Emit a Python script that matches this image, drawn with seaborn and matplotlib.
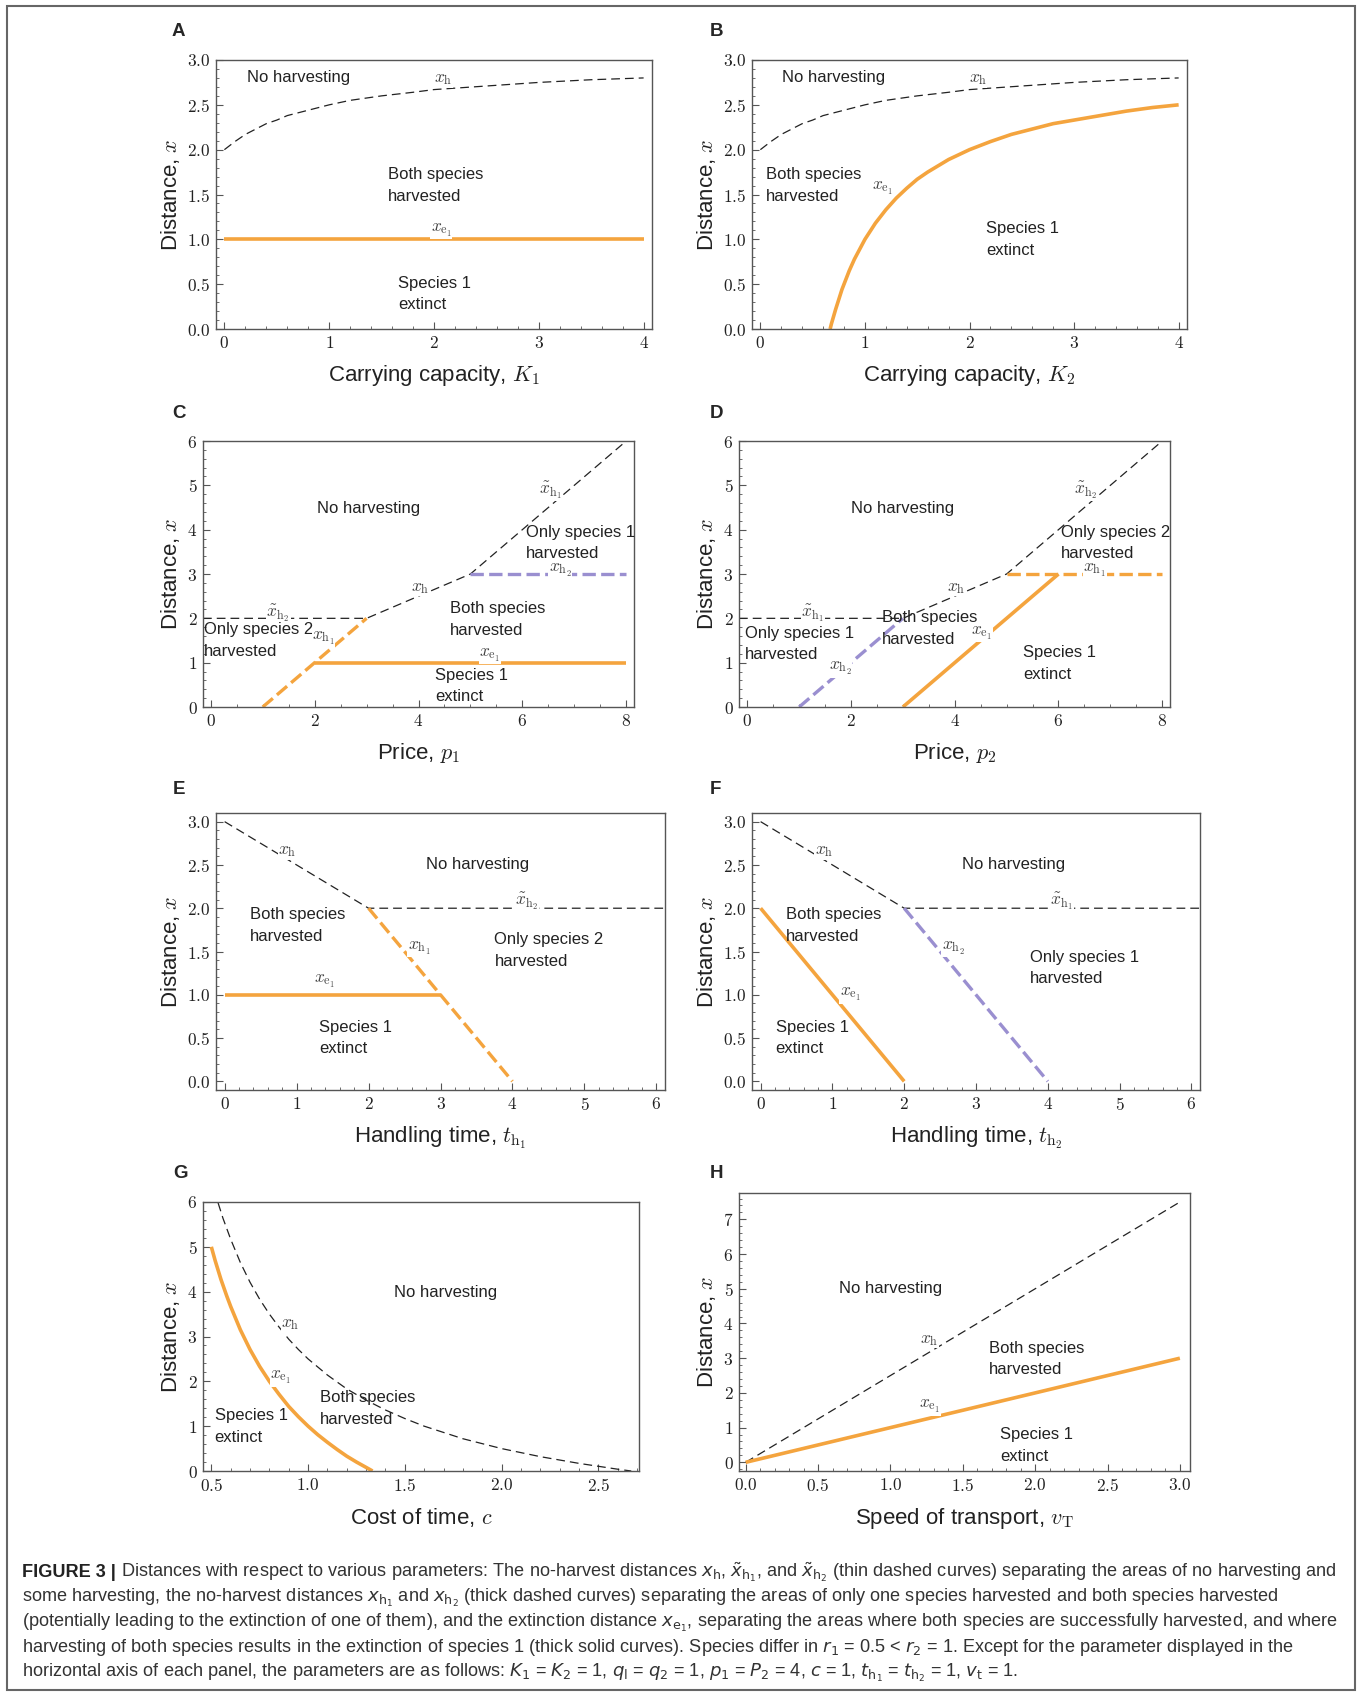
import matplotlib
matplotlib.use("Agg")
import matplotlib.pyplot as plt
import seaborn as sns
from matplotlib.ticker import MultipleLocator, FormatStrFormatter
from matplotlib.patches import Rectangle
from matplotlib import font_manager

# ---- data ----
# A: carrying capacity K1
A_K = [0, 0.1, 0.2, 0.3, 0.4, 0.5, 0.6, 0.8, 1.0, 1.2, 1.5, 1.8, 2.0, 2.5, 3.0, 3.5, 4.0]
A_XH = [2.0, 2.09, 2.17, 2.23, 2.29, 2.33, 2.38, 2.44, 2.5, 2.55, 2.6, 2.64, 2.67, 2.71, 2.75, 2.78, 2.8]
A_XE1_K = [0, 4]
A_XE1 = [1.0, 1.0]

# B: carrying capacity K2
B_K = [0, 0.1, 0.2, 0.3, 0.4, 0.5, 0.6, 0.8, 1.0, 1.2, 1.5, 1.8, 2.0, 2.5, 3.0, 3.5, 4.0]
B_XH = [2.0, 2.09, 2.17, 2.23, 2.29, 2.33, 2.38, 2.44, 2.5, 2.55, 2.6, 2.64, 2.67, 2.71, 2.75, 2.78, 2.8]
B_XE1_K = [0.667, 0.68, 0.7, 0.72, 0.75, 0.78, 0.8, 0.85, 0.9, 0.95, 1.0, 1.1, 1.2, 1.3, 1.4,
           1.5, 1.6, 1.8, 2.0, 2.2, 2.4, 2.6, 2.8, 3.0, 3.25, 3.5, 3.75, 4.0]
B_XE1 = [0.0, 0.06, 0.14, 0.22, 0.33, 0.44, 0.5, 0.65, 0.78, 0.89, 1.0, 1.18, 1.33, 1.46, 1.57,
         1.67, 1.75, 1.89, 2.0, 2.09, 2.17, 2.23, 2.29, 2.33, 2.38, 2.43, 2.47, 2.5]

# C: price p1
C_THIN_P = [-0.15, 3, 4, 5, 8]
C_THIN = [2, 2, 2.5, 3, 6]
C_XH1_P = [1, 3]
C_XH1 = [0, 2]
C_XH2_P = [5, 8]
C_XH2 = [3, 3]
C_XE1_P = [2, 8]
C_XE1 = [1, 1]

# D: price p2
D_THIN_P = [-0.16, 3, 4, 5, 8]
D_THIN = [2, 2, 2.5, 3, 6]
D_XH2_P = [1, 3]
D_XH2 = [0, 2]
D_XH1_P = [5, 8]
D_XH1 = [3, 3]
D_XE1_P = [3, 6]
D_XE1 = [0, 3]

# E: handling time th1
E_THIN_T = [0, 2, 6.12]
E_THIN = [3, 2, 2]
E_XH1_T = [2, 4]
E_XH1 = [2, 0]
E_XE1_T = [0, 3]
E_XE1 = [1, 1]

# F: handling time th2
F_THIN_T = [0, 2, 6.12]
F_THIN = [3, 2, 2]
F_XH2_T = [2, 4]
F_XH2 = [2, 0]
F_XE1_T = [0, 2]
F_XE1 = [2, 0]

# G: cost of time c
G_XH_C = [0.535, 0.56, 0.6, 0.65, 0.7, 0.75, 0.8, 0.85, 0.9, 0.95, 1.0, 1.1, 1.2, 1.3, 1.4,
          1.5, 1.6, 1.8, 2.0, 2.2, 2.4, 2.6, 2.67]
G_XH = [5.98, 5.64, 5.17, 4.65, 4.21, 3.83, 3.5, 3.21, 2.94, 2.71, 2.5, 2.14, 1.83, 1.58, 1.36,
        1.17, 1.0, 0.72, 0.5, 0.32, 0.17, 0.04, 0.0]
G_XE1_C = [0.5, 0.52, 0.55, 0.58, 0.6, 0.65, 0.7, 0.75, 0.8, 0.85, 0.9, 0.95, 1.0, 1.05, 1.1,
           1.15, 1.2, 1.25, 1.3, 1.333]
G_XE1 = [5.0, 4.69, 4.27, 3.9, 3.67, 3.15, 2.71, 2.33, 2.0, 1.71, 1.44, 1.21, 1.0, 0.81, 0.64,
         0.48, 0.33, 0.2, 0.08, 0.0]

# H: speed of transport vT
H_V = [0, 3]
H_XH = [0, 7.5]
H_XE1 = [0, 3]

CAPTION = [
    r" Distances with respect to various parameters: The no-harvest distances $x_\mathrm{h}$, $\tilde{x}_{\mathrm{h}_1}$, and $\tilde{x}_{\mathrm{h}_2}$ (thin dashed curves) separating the areas of no harvesting and",
    r"some harvesting, the no-harvest distances $x_{\mathrm{h}_1}$ and $x_{\mathrm{h}_2}$ (thick dashed curves) separating the areas of only one species harvested and both species harvested",
    r"(potentially leading to the extinction of one of them), and the extinction distance $x_{\mathrm{e}_1}$, separating the areas where both species are successfully harvested, and where",
    r"harvesting of both species results in the extinction of species 1 (thick solid curves). Species differ in $r_1$ = 0.5 < $r_2$ = 1. Except for the parameter displayed in the",
    r"horizontal axis of each panel, the parameters are as follows: $K_1$ = $K_2$ = 1, $q_\mathrm{l}$ = $q_2$ = 1, $p_1$ = $P_2$ = 4, $c$ = 1, $t_{\mathrm{h}_1}$ = $t_{\mathrm{h}_2}$ = 1, $v_\mathrm{t}$ = 1.",
]

# ---- style ----
sns.set_style("white")
plt.rcParams["font.family"] = ["Liberation Sans", "DejaVu Sans"]
plt.rcParams["mathtext.fontset"] = "cm"

names = {f.name for f in font_manager.fontManager.ttflist}

ORANGE = "#F4A43E"
PURPLE = "#9A8FD0"
THIN_LS = (0, (7, 4))
THICK_LS = (0, (4, 1.6))

W, H = 1362, 1696
fig = plt.figure(figsize=(W / 100, H / 100), dpi=100)
fig.patch.set_facecolor("white")
fig.patches.append(Rectangle((7 / W, 6 / H), (1355 - 7) / W, (1690 - 6) / H,
                             transform=fig.transFigure, fill=False,
                             edgecolor="#666666", linewidth=1.5))


def make_ax(left, right, top, bottom):
    return fig.add_axes([left / W, 1 - bottom / H, (right - left) / W, (bottom - top) / H])


def line(ax, x, y, kind):
    if kind == "thin":
        kw = dict(color="#222222", lw=0.9, linestyle=THIN_LS)
    elif kind == "orange":
        kw = dict(color=ORANGE, lw=2.6, solid_capstyle="butt", solid_joinstyle="round")
    elif kind == "orange_dash":
        kw = dict(color=ORANGE, lw=2.4, linestyle=THICK_LS)
    else:
        kw = dict(color=PURPLE, lw=2.4, linestyle=THICK_LS)
    sns.lineplot(x=x, y=y, ax=ax, sort=False, estimator=None, **kw)


def style(ax, xlim, ylim, xmaj, xmin, ymaj, ymin, xfmt, yfmt, xlabel):
    ax.set_xlim(xlim)
    ax.set_ylim(ylim)
    ax.xaxis.set_major_locator(MultipleLocator(xmaj))
    ax.xaxis.set_minor_locator(MultipleLocator(xmin))
    ax.yaxis.set_major_locator(MultipleLocator(ymaj))
    ax.yaxis.set_minor_locator(MultipleLocator(ymin))
    # tick numbers in a serif face (Computer Modern via mathtext)
    ax.xaxis.set_major_formatter(FormatStrFormatter("$" + xfmt + "$"))
    ax.yaxis.set_major_formatter(FormatStrFormatter("$" + yfmt + "$"))
    ax.tick_params(which="both", direction="in", top=False, right=False,
                   bottom=True, left=True, colors="#555555", labelcolor="#222222",
                   labelsize=12.5, pad=4)
    ax.tick_params(which="major", length=5, width=0.8)
    ax.tick_params(which="minor", length=2.5, width=0.6)
    for s in ax.spines.values():
        s.set_color("#555555")
        s.set_linewidth(1.0)
    ax.set_xlabel(xlabel, fontsize=16, labelpad=9, color="#222222")
    ax.set_ylabel("Distance, $x$", fontsize=16, labelpad=4, color="#222222")


def region(ax, x, y, s, ha="left"):
    ax.text(x, y, s, ha=ha, va="center", fontsize=12, linespacing=1.55, color="#222222")


def mlab(ax, x, y, s):
    ax.text(x, y, s, ha="center", va="center", fontsize=12.5, color="#444444",
            bbox=dict(facecolor="white", edgecolor="none", pad=0.3))


def letter(x, y, s):
    fig.text(x / W, 1 - y / H, s, fontsize=13.5, weight="bold", va="center", ha="left")


# ---- A ----
ax = make_ax(216, 652, 60, 329)
line(ax, A_K, A_XH, "thin")
line(ax, A_XE1_K, A_XE1, "orange")
style(ax, (-0.08, 4.08), (0, 3), 1, 0.2, 0.5, 0.1, "%d", "%.1f", "Carrying capacity, $K_1$")
region(ax, 0.71, 2.80, "No harvesting", ha="center")
mlab(ax, 2.09, 2.78, r"$x_\mathrm{h}$")
region(ax, 1.56, 1.6, "Both species\nharvested")
mlab(ax, 2.07, 1.10, r"$x_{\mathrm{e}_1}$")
region(ax, 1.66, 0.39, "Species 1\nextinct")
letter(172, 32, "A")

# ---- B ----
ax = make_ax(752, 1187, 60, 329)
line(ax, B_K, B_XH, "thin")
line(ax, B_XE1_K, B_XE1, "orange")
style(ax, (-0.08, 4.08), (0, 3), 1, 0.2, 0.5, 0.1, "%d", "%.1f", "Carrying capacity, $K_2$")
region(ax, 0.70, 2.80, "No harvesting", ha="center")
mlab(ax, 2.08, 2.78, r"$x_\mathrm{h}$")
region(ax, 0.05, 1.6, "Both species\nharvested")
mlab(ax, 1.17, 1.57, r"$x_{\mathrm{e}_1}$")
region(ax, 2.16, 1.0, "Species 1\nextinct")
letter(710, 32, "B")

# ---- C ----
ax = make_ax(203, 634, 441, 707)
line(ax, C_THIN_P, C_THIN, "thin")
line(ax, C_XH1_P, C_XH1, "orange_dash")
line(ax, C_XH2_P, C_XH2, "purple_dash")
line(ax, C_XE1_P, C_XE1, "orange")
style(ax, (-0.15, 8.15), (0, 6), 2, 0.5, 1, 0.2, "%d", "%d", "Price, $p_1$")
region(ax, 3.03, 4.47, "No harvesting", ha="center")
mlab(ax, 6.54, 4.89, r"$\tilde{x}_{\mathrm{h}_1}$")
region(ax, 6.07, 3.7, "Only species 1\nharvested")
mlab(ax, 6.73, 3.08, r"$x_{\mathrm{h}_2}$")
mlab(ax, 4.03, 2.67, r"$x_\mathrm{h}$")
region(ax, 4.61, 1.98, "Both species\nharvested")
mlab(ax, 1.30, 2.1, r"$\tilde{x}_{\mathrm{h}_2}$")
region(ax, -0.13, 1.5, "Only species 2\nharvested")
mlab(ax, 2.17, 1.54, r"$x_{\mathrm{h}_1}$")
mlab(ax, 5.38, 1.17, r"$x_{\mathrm{e}_1}$")
region(ax, 4.32, 0.47, "Species 1\nextinct")
letter(172, 413, "C")

# ---- D ----
ax = make_ax(739, 1170, 441, 707)
line(ax, D_THIN_P, D_THIN, "thin")
line(ax, D_XH2_P, D_XH2, "purple_dash")
line(ax, D_XH1_P, D_XH1, "orange_dash")
line(ax, D_XE1_P, D_XE1, "orange")
style(ax, (-0.16, 8.15), (0, 6), 2, 0.5, 1, 0.2, "%d", "%d", "Price, $p_2$")
region(ax, 3.0, 4.47, "No harvesting", ha="center")
mlab(ax, 6.53, 4.89, r"$\tilde{x}_{\mathrm{h}_2}$")
region(ax, 6.05, 3.7, "Only species 2\nharvested")
mlab(ax, 6.70, 3.08, r"$x_{\mathrm{h}_1}$")
mlab(ax, 4.02, 2.67, r"$x_\mathrm{h}$")
mlab(ax, 1.27, 2.1, r"$\tilde{x}_{\mathrm{h}_1}$")
region(ax, 2.6, 1.77, "Both species\nharvested")
mlab(ax, 4.52, 1.66, r"$x_{\mathrm{e}_1}$")
region(ax, -0.04, 1.42, "Only species 1\nharvested")
mlab(ax, 1.80, 0.86, r"$x_{\mathrm{h}_2}$")
region(ax, 5.32, 0.98, "Species 1\nextinct")
letter(710, 413, "D")

# ---- E ----
ax = make_ax(216, 665, 813, 1090)
line(ax, E_THIN_T, E_THIN, "thin")
line(ax, E_XH1_T, E_XH1, "orange_dash")
line(ax, E_XE1_T, E_XE1, "orange")
style(ax, (-0.12, 6.12), (-0.1, 3.1), 1, 0.2, 0.5, 0.1, "%d", "%.1f", r"Handling time, $t_{\mathrm{h}_1}$")
mlab(ax, 0.87, 2.65, r"$x_\mathrm{h}$")
region(ax, 3.51, 2.5, "No harvesting", ha="center")
mlab(ax, 4.2, 2.08, r"$\tilde{x}_{\mathrm{h}_2}$")
region(ax, 0.35, 1.8, "Both species\nharvested")
mlab(ax, 2.7, 1.54, r"$x_{\mathrm{h}_1}$")
region(ax, 3.75, 1.51, "Only species 2\nharvested")
mlab(ax, 1.39, 1.15, r"$x_{\mathrm{e}_1}$")
region(ax, 1.31, 0.5, "Species 1\nextinct")
letter(173, 789, "E")

# ---- F ----
ax = make_ax(752, 1200, 813, 1090)
line(ax, F_THIN_T, F_THIN, "thin")
line(ax, F_XE1_T, F_XE1, "orange")
line(ax, F_XH2_T, F_XH2, "purple_dash")
style(ax, (-0.12, 6.12), (-0.1, 3.1), 1, 0.2, 0.5, 0.1, "%d", "%.1f", r"Handling time, $t_{\mathrm{h}_2}$")
mlab(ax, 0.88, 2.65, r"$x_\mathrm{h}$")
region(ax, 3.52, 2.5, "No harvesting", ha="center")
mlab(ax, 4.19, 2.08, r"$\tilde{x}_{\mathrm{h}_1}$")
region(ax, 0.35, 1.8, "Both species\nharvested")
mlab(ax, 2.68, 1.54, r"$x_{\mathrm{h}_2}$")
region(ax, 3.75, 1.31, "Only species 1\nharvested")
mlab(ax, 1.25, 1.0, r"$x_{\mathrm{e}_1}$")
region(ax, 0.21, 0.5, "Species 1\nextinct")
letter(710, 789, "F")

# ---- G ----
ax = make_ax(203, 639, 1202, 1471)
line(ax, G_XH_C, G_XH, "thin")
line(ax, G_XE1_C, G_XE1, "orange")
style(ax, (0.457, 2.71), (0, 6), 0.5, 0.1, 1, 0.2, "%.1f", "%d", "Cost of time, $c$")
region(ax, 1.71, 3.98, "No harvesting", ha="center")
mlab(ax, 0.91, 3.26, r"$x_\mathrm{h}$")
mlab(ax, 0.86, 2.08, r"$x_{\mathrm{e}_1}$")
region(ax, 1.06, 1.4, "Both species\nharvested")
region(ax, 0.517, 0.99, "Species 1\nextinct")
letter(173, 1173, "G")

# ---- H ----
ax = make_ax(739, 1190, 1193, 1471)
line(ax, H_V, H_XH, "thin")
line(ax, H_V, H_XE1, "orange")
style(ax, (-0.046, 3.07), (-0.25, 7.76), 0.5, 0.1, 1, 0.2, "%.1f", "%d", r"Speed of transport, $v_\mathrm{T}$")
region(ax, 1.0, 5.0, "No harvesting", ha="center")
mlab(ax, 1.27, 3.52, r"$x_\mathrm{h}$")
region(ax, 1.68, 2.98, "Both species\nharvested")
mlab(ax, 1.27, 1.6, r"$x_{\mathrm{e}_1}$")
region(ax, 1.76, 0.49, "Species 1\nextinct")
letter(710, 1173, "H")

# ---- caption ----
cap_font = "Liberation Sans Narrow" if "Liberation Sans Narrow" in names else "Liberation Sans"
baselines = [1577, 1602, 1627, 1652, 1677]
cap_size = 11.0
bold = fig.text(22 / W, 1 - baselines[0] / H, "FIGURE 3 |", fontsize=cap_size, weight="bold",
                family=cap_font, va="baseline", color="#222222")
cap_texts = []
for i, s in enumerate(CAPTION):
    t = fig.text(22 / W, 1 - baselines[i] / H, s, fontsize=cap_size, family=cap_font,
                 va="baseline", color="#333333", math_fontfamily="dejavusans")
    cap_texts.append(t)

# fit first caption line to the width of the text block
for _ in range(3):
    fig.canvas.draw()
    r = fig.canvas.get_renderer()
    bb = bold.get_window_extent(r)
    cap_texts[0].set_x(bb.x1 / W)
    fig.canvas.draw()
    width = cap_texts[0].get_window_extent(r).x1 - bb.x0
    k = (1333 - 22) / width
    for t in [bold] + cap_texts:
        t.set_fontsize(t.get_fontsize() * k)
fig.canvas.draw()
cap_texts[0].set_x(bold.get_window_extent(fig.canvas.get_renderer()).x1 / W)

fig.savefig("out.png", dpi=100, facecolor="white")
